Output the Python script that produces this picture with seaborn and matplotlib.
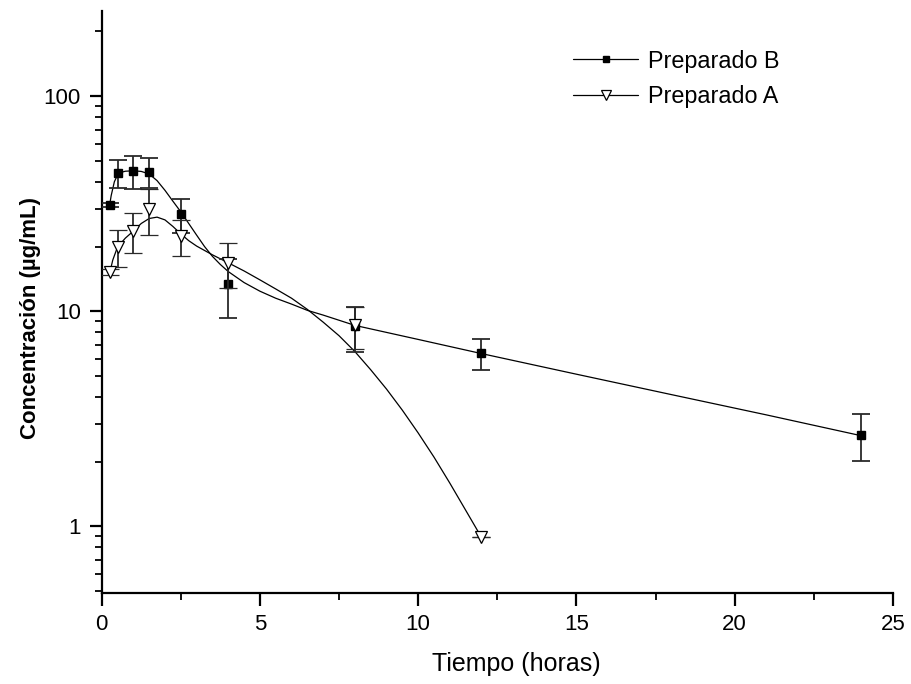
import numpy as np
import matplotlib
matplotlib.use('Agg')
import matplotlib.pyplot as plt
import seaborn as sns
from matplotlib.lines import Line2D
from matplotlib.ticker import LogLocator, NullFormatter, FixedLocator, MultipleLocator

sns.set_style('ticks')
plt.rcParams['font.family'] = ['Liberation Sans', 'DejaVu Sans']
for k in ['text.color', 'axes.labelcolor', 'xtick.color', 'ytick.color', 'axes.edgecolor']:
    plt.rcParams[k] = 'black'

# measured points (hours, ug/mL) with error bars
tiempo_b = [0.25, 0.5, 1.0, 1.5, 2.5, 4.0, 8.0, 12.0, 24.0]
conc_b = [31.2, 44.0, 44.8, 44.5, 28.3, 13.4, 8.5, 6.4, 2.67]
err_b = [0.6, 6.4, 7.9, 7.2, 5.1, 4.1, 2.0, 1.07, 0.65]

tiempo_a = [0.25, 0.5, 1.0, 1.5, 2.5, 4.0, 8.0, 12.0]
conc_a = [15.2, 20.0, 23.6, 29.8, 22.3, 16.8, 8.6, 0.89]
err_a = [0.5, 4.0, 5.0, 7.2, 4.3, 4.0, 1.9, 0.0]

# smooth curves
curva_t_b = [0.25, 0.3, 0.4, 0.5, 0.6, 0.75, 1.0, 1.25, 1.5, 1.75, 2.0, 2.25, 2.5, 2.75,
             3.0, 3.25, 3.5, 3.75, 4.0, 4.5, 5.0, 5.5, 6.0, 6.5, 7.0, 8.0, 10.0, 12.0,
             15.0, 18.0, 21.0, 24.0]
curva_b = [31.1, 34.5, 40.0, 43.0, 44.2, 44.8, 45.0, 44.7, 43.5, 40.5, 36.5, 32.5, 29.0, 25.6,
           22.6, 20.0, 18.0, 16.5, 15.3, 13.6, 12.4, 11.5, 10.8, 10.1, 9.6, 8.6, 7.4, 6.36,
           5.1, 4.1, 3.3, 2.64]

curva_t_a = [0.25, 0.35, 0.5, 0.75, 1.0, 1.25, 1.5, 1.75, 2.0, 2.25, 2.5, 2.75, 3.0, 3.5,
             4.0, 4.5, 5.0, 5.5, 6.0, 6.5, 7.0, 7.5, 8.0, 8.5, 9.0, 9.5, 10.0, 10.5,
             11.0, 11.5, 12.0]
curva_a = [15.0, 17.3, 19.9, 21.9, 23.6, 25.6, 27.0, 27.4, 26.6, 24.8, 22.9, 21.3, 20.1, 18.3,
           16.8, 15.4, 14.0, 12.7, 11.5, 10.2, 8.9, 7.7, 6.5, 5.35, 4.35, 3.47, 2.72, 2.10,
           1.59, 1.19, 0.89]

fig = plt.figure(figsize=(9.12, 6.84), dpi=100)
ax = fig.add_axes([0.1115, 0.133, 0.8675, 0.8515])

sns.lineplot(x=curva_t_b, y=curva_b, ax=ax, color='black', lw=0.9, sort=False, estimator=None)
sns.lineplot(x=curva_t_a, y=curva_a, ax=ax, color='black', lw=0.9, sort=False, estimator=None)

ax.errorbar(tiempo_b, conc_b, yerr=err_b, fmt='s', color='black', ms=6,
            ecolor='#2a2a2a', elinewidth=1.3, capsize=6.5, capthick=1.3, zorder=3)
ax.errorbar(tiempo_a, conc_a, yerr=err_a, fmt='v', color='black', mfc='white', mec='black',
            ms=8, mew=0.9, ecolor='#2a2a2a', elinewidth=1.3, capsize=6.5, capthick=1.3, zorder=4)

ax.set_yscale('log')
ax.set_ylim(0.49, 250)
ax.set_xlim(0, 25)

ax.xaxis.set_major_locator(MultipleLocator(5))
ax.xaxis.set_minor_locator(MultipleLocator(2.5))
ax.yaxis.set_major_locator(FixedLocator([1, 10, 100]))
ax.set_yticklabels(['1', '10', '100'])
ax.yaxis.set_minor_locator(LogLocator(base=10, subs=np.arange(2, 10)))
ax.yaxis.set_minor_formatter(NullFormatter())

sns.despine(ax=ax)
for s in ['left', 'bottom']:
    ax.spines[s].set_linewidth(1.6)
ax.tick_params(which='major', direction='out', length=9, width=1.6, labelsize=16, pad=6)
ax.tick_params(which='minor', direction='out', length=5, width=1.3)

ax.set_xlabel('Tiempo (horas)', fontsize=18)
ax.set_ylabel('Concentración (µg/mL)', fontsize=16, fontweight='bold')
ax.xaxis.set_label_coords(0.5236, -0.101)
ax.yaxis.set_label_coords(-0.0767, 0.4725)

handles = [
    Line2D([], [], color='black', lw=0.9, marker='s', ms=5),
    Line2D([], [], color='black', lw=0.9, marker='v', mfc='white', mec='black', ms=7, mew=0.9),
]
ax.legend(handles, ['Preparado B', 'Preparado A'], loc='upper left',
          bbox_to_anchor=(0.569, 0.969), frameon=False, fontsize=16.8,
          handlelength=2.8, handletextpad=0.4, labelspacing=0.55, numpoints=1)

fig.savefig('out.png', dpi=100)
